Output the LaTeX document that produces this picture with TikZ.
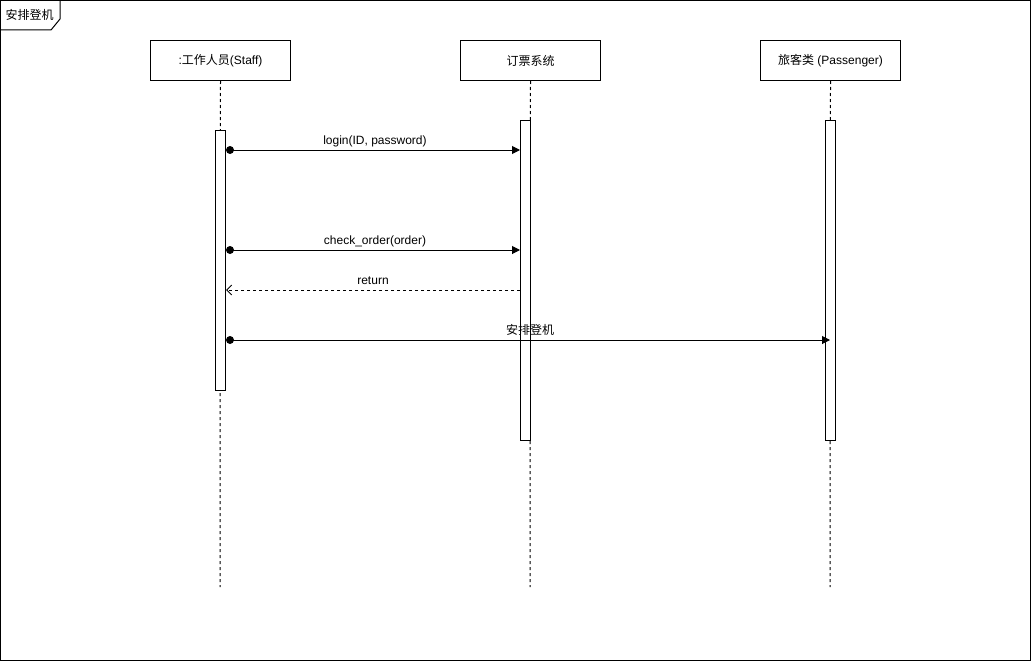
\documentclass[tikz,border=0pt]{standalone}
\usepackage{fontspec}
\setmainfont{Liberation Sans}
\newfontfamily\cjk{Noto Sans CJK SC}
\usetikzlibrary{arrows.meta}
\begin{document}
\begin{tikzpicture}[x=1pt,y=-1pt, line width=1pt, font=\fontsize{12}{14}\selectfont,
 head/.style={draw, minimum width=140pt, minimum height=40pt, inner sep=0pt, anchor=north west},
 act/.style={draw, fill=white, minimum width=10pt, inner sep=0pt, anchor=north west},
 life/.style={dash pattern=on 3pt off 3pt},
 msg/.style={-{Triangle[length=8pt,width=8pt]}},
 ret/.style={dash pattern=on 3pt off 3pt, -{Straight Barb[length=5pt,width=10pt]}},
 lbl/.style={above, inner sep=2pt, text depth=3pt},
 dot/.style={fill=black}]
\useasboundingbox (0,0) rectangle (1031,661);
\fill[white] (0,0) rectangle (1031,661);
% frame
\draw (0.5,0.5) rectangle (1030.5,660.5);
\draw (0.5,0.5) -- (60,0.5) -- (60,19) -- (51,30) -- (0.5,30);
\node[anchor=west, inner sep=0pt] (title) at (5,15) {\cjk 安排登机};
% heads
\node[head] (s) at (150,40) {:{\cjk 工作人员}(Staff)};
\node[head] (t) at (460,40) {\cjk 订票系统};
\node[head] (p) at (760,40) {{\cjk 旅客类} (Passenger)};
% lifeline ends
\coordinate (se) at (220,587);
\coordinate (te) at (530,587);
\coordinate (pe) at (830,587);
\draw[life] (s.south) -- (se);
\draw[life] (t.south) -- (te);
\draw[life] (p.south) -- (pe);
% activations
\node[act, minimum height=260pt] (sa) at (215,130) {};
\node[act, minimum height=320pt] (ta) at (520,120) {};
\node[act, minimum height=320pt] (pa) at (825,120) {};
% messages
\coordinate (m1s) at (230,150); \coordinate (m1e) at (520,150);
\draw[msg] (m1s) -- node[lbl] (l1) {login(ID, password)} (m1e);
\fill[dot] (m1s) circle (4pt);
\coordinate (m2s) at (230,250); \coordinate (m2e) at (520,250);
\draw[msg] (m2s) -- node[lbl] (l2) {check\_order(order)} (m2e);
\fill[dot] (m2s) circle (4pt);
\coordinate (m3s) at (520,290); \coordinate (m3e) at (226,290);
\draw[ret] (m3s) -- node[lbl] (l3) {return} (m3e);
\coordinate (m4s) at (230,340); \coordinate (m4e) at (830,340);
\draw[msg] (m4s) -- node[lbl] (l4) {\cjk 安排登机} (m4e);
\fill[dot] (m4s) circle (4pt);
\end{tikzpicture}
\end{document}
